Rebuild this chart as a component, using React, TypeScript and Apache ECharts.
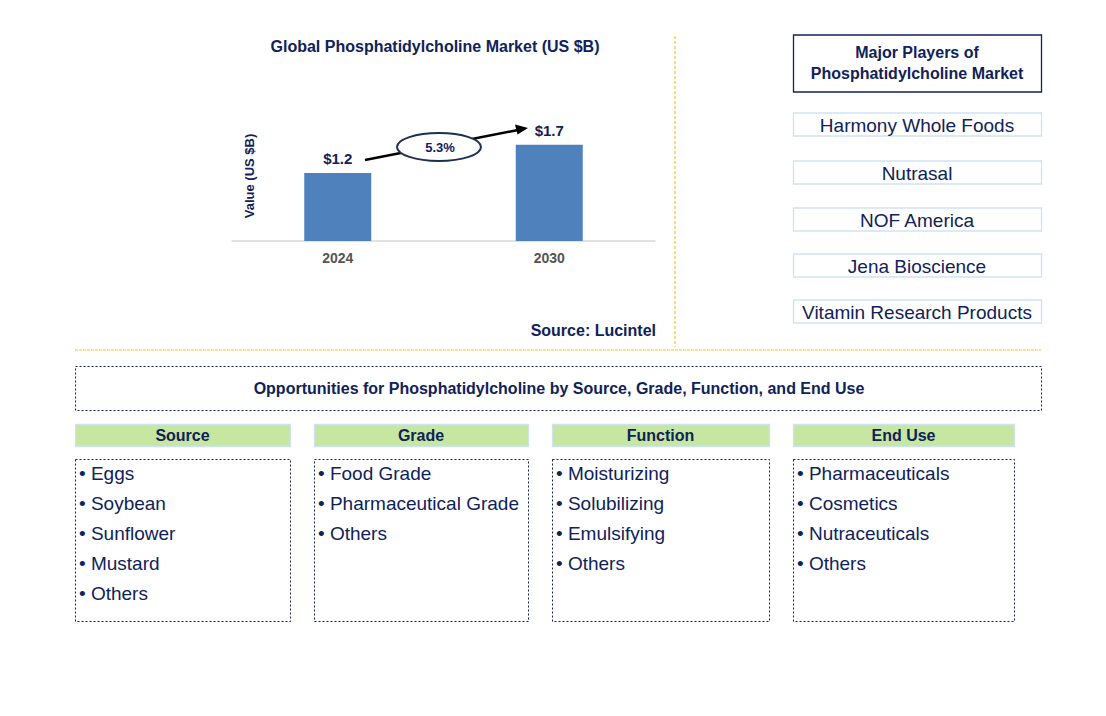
import React, { useEffect, useRef } from "react";
import * as echarts from "echarts";

const years = ["2024", "2030"];
const values = [1.2, 1.7];
const valueLabels = ["$1.2", "$1.7"];
const cagr = "5.3%";
const players = ["Harmony Whole Foods", "Nutrasal", "NOF America", "Jena Bioscience", "Vitamin Research Products"];
const segHeaders = ["Source", "Grade", "Function", "End Use"];
const segItems = [
  ["Eggs", "Soybean", "Sunflower", "Mustard", "Others"],
  ["Food Grade", "Pharmaceutical Grade", "Others"],
  ["Moisturizing", "Solubilizing", "Emulsifying", "Others"],
  ["Pharmaceuticals", "Cosmetics", "Nutraceuticals", "Others"],
];

const NAVY = "#0f2259";
const FONT = "Liberation Sans, Arial, sans-serif";

export default function App() {
  const ref = useRef<HTMLDivElement>(null);
  useEffect(() => {
    const chart = echarts.init(ref.current!, undefined, { renderer: "svg" });
    const g: any[] = [];
    // title
    g.push({ type: "text", x: 435, y: 46, style: { text: "Global Phosphatidylcholine Market (US $B)", font: `bold 16px ${FONT}`, fill: NAVY, align: "center", verticalAlign: "middle" } });
    // y axis name
    g.push({ type: "text", x: 249, y: 176, rotation: Math.PI / 2, style: { text: "Value (US $B)", font: `bold 13px ${FONT}`, fill: NAVY, align: "center", verticalAlign: "middle" } });
    // arrow
    g.push({ type: "line", shape: { x1: 365, y1: 160, x2: 518, y2: 130 }, style: { stroke: "#000", lineWidth: 2.5 } });
    g.push({ type: "polygon", shape: { points: [[528, 128], [515, 124.5], [517.5, 134.5]] }, style: { fill: "#000" } });
    g.push({ type: "ellipse", shape: { cx: 439, cy: 147, rx: 42, ry: 14 }, style: { fill: "#fff", stroke: "#1e3050", lineWidth: 2 } });
    g.push({ type: "text", x: 440, y: 147, style: { text: cagr, font: `bold 13px ${FONT}`, fill: NAVY, align: "center", verticalAlign: "middle" } });
    // source
    g.push({ type: "text", x: 656, y: 330, style: { text: "Source: Lucintel", font: `bold 16px ${FONT}`, fill: NAVY, align: "right", verticalAlign: "middle" } });
    // dividers
    g.push({ type: "line", shape: { x1: 675, y1: 36, x2: 675, y2: 347 }, style: { stroke: "#f5b800", lineWidth: 1, lineDash: [3, 2] } });
    g.push({ type: "line", shape: { x1: 75, y1: 350, x2: 1041, y2: 350 }, style: { stroke: "#f5c030", lineWidth: 1, lineDash: [3, 1] } });
    // players header
    g.push({ type: "rect", shape: { x: 793.5, y: 35, width: 248, height: 57 }, style: { fill: "#fff", stroke: NAVY, lineWidth: 1.3 } });
    g.push({ type: "text", x: 917, y: 52, style: { text: "Major Players of", font: `bold 16px ${FONT}`, fill: NAVY, align: "center", verticalAlign: "middle" } });
    g.push({ type: "text", x: 917, y: 73, style: { text: "Phosphatidylcholine Market", font: `bold 16px ${FONT}`, fill: NAVY, align: "center", verticalAlign: "middle" } });
    const py = [113, 161, 208, 254, 300];
    players.forEach((p, i) => {
      g.push({ type: "rect", shape: { x: 793.5, y: py[i], width: 248, height: 23 }, style: { fill: "#fff", stroke: "#cfe4f3", lineWidth: 1.3 } });
      g.push({ type: "text", x: 917, y: py[i] + 12, style: { text: p, font: `19px ${FONT}`, fill: NAVY, align: "center", verticalAlign: "middle" } });
    });
    // opportunities
    g.push({ type: "rect", shape: { x: 75.5, y: 366.5, width: 966, height: 44 }, style: { fill: "#fff", stroke: NAVY, lineWidth: 1, lineDash: [2, 2] } });
    g.push({ type: "text", x: 559, y: 388, style: { text: "Opportunities for Phosphatidylcholine by Source, Grade, Function, and End Use", font: `bold 16px ${FONT}`, fill: NAVY, align: "center", verticalAlign: "middle" } });
    const cols = [[75, 290], [314, 528], [552, 769], [793, 1014]];
    cols.forEach(([x0, x1], i) => {
      g.push({ type: "rect", shape: { x: x0 + 0.5, y: 424.5, width: x1 - x0, height: 22 }, style: { fill: "#c6e6a2", stroke: "#cde3f3", lineWidth: 1.3 } });
      g.push({ type: "text", x: (x0 + x1) / 2, y: 435.5, style: { text: segHeaders[i], font: `bold 16px ${FONT}`, fill: NAVY, align: "center", verticalAlign: "middle" } });
      g.push({ type: "rect", shape: { x: x0 + 0.5, y: 459.5, width: x1 - x0, height: 162 }, style: { fill: "#fff", stroke: NAVY, lineWidth: 1, lineDash: [2, 2] } });
      segItems[i].forEach((it, j) => {
        g.push({ type: "text", x: x0 + 4, y: 473 + j * 30, style: { text: "• " + it, font: `19px ${FONT}`, fill: NAVY, align: "left", verticalAlign: "middle" } });
      });
    });
    chart.setOption({
      animation: false,
      grid: { left: 232, width: 423, top: 99.5, height: 141.5 },
      xAxis: {
        type: "category",
        data: years,
        axisLine: { lineStyle: { color: "#d9d9d9", width: 1.5 } },
        axisTick: { show: false },
        axisLabel: { color: "#555", fontWeight: "bold", fontSize: 14, fontFamily: FONT, margin: 10 },
      },
      yAxis: { type: "value", min: 0, max: 2.5, show: false },
      series: [
        {
          type: "bar",
          data: values,
          barWidth: 67,
          itemStyle: { color: "#4f81bd" },
          label: {
            show: true,
            position: "top",
            distance: 7,
            formatter: (p: any) => valueLabels[p.dataIndex],
            color: NAVY,
            fontWeight: "bold",
            fontSize: 15,
            fontFamily: FONT,
          },
        },
      ],
      graphic: g,
    });
    return () => chart.dispose();
  }, []);
  return <div ref={ref} style={{ position: "absolute", left: 0, top: 0, width: 1106, height: 716, background: "#fff" }} />;
}
